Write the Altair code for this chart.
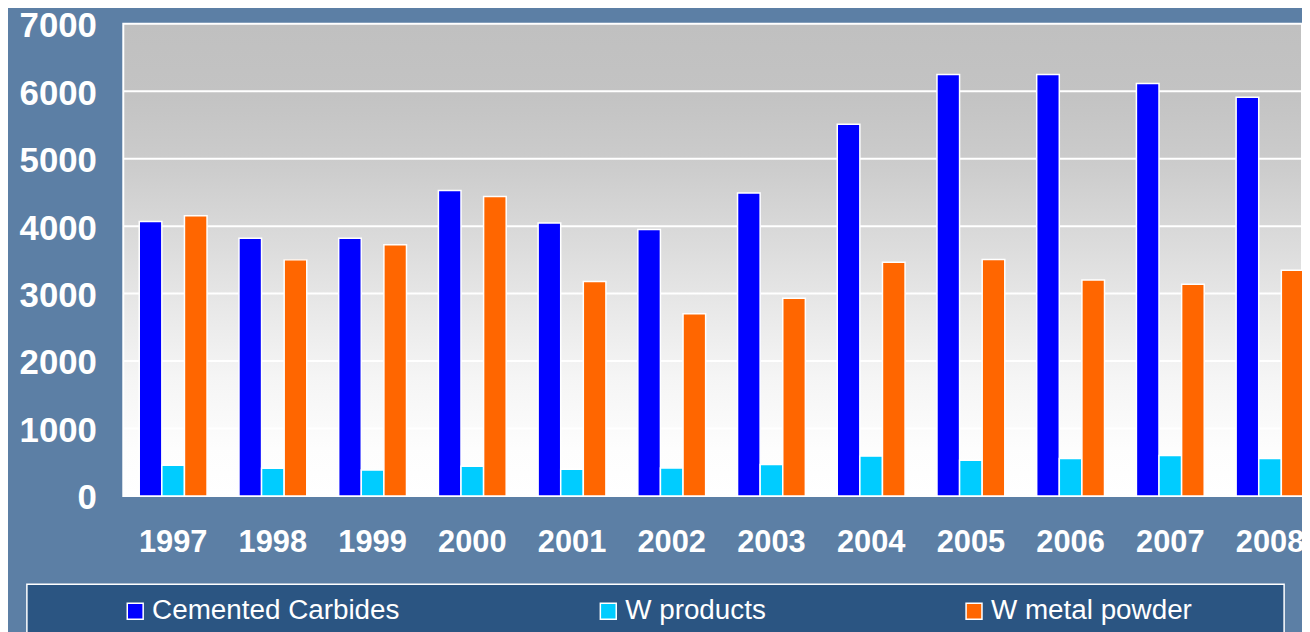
import altair as alt
import pandas as pd

years = ["1997", "1998", "1999", "2000", "2001", "2002", "2003", "2004", "2005", "2006", "2007", "2008"]
series_names = ["Cemented Carbides", "W products", "W metal powder"]
cemented_carbides = [4070, 3820, 3820, 4530, 4045, 3950, 4490, 5510, 6250, 6250, 6115, 5910]
w_products = [455, 410, 385, 440, 395, 415, 465, 590, 530, 555, 600, 555]
w_metal_powder = [4155, 3500, 3725, 4440, 3180, 2700, 2930, 3465, 3505, 3200, 3140, 3345]
series_colors = ["#0000ff", "#00ccff", "#ff6600"]
y_ticks = [0, 1000, 2000, 3000, 4000, 5000, 6000, 7000]

rows = []
for name, vals in zip(series_names, [cemented_carbides, w_products, w_metal_powder]):
    for yr, v in zip(years, vals):
        rows.append({"Year": yr, "Series": name, "Value": v})
df = pd.DataFrame(rows)
grid_df = pd.DataFrame({"Value": y_ticks[1:-1]})

FONT = "Liberation Sans"
W, H = 1186, 475

y_scale = alt.Scale(domain=[0, 7000], nice=False)
y_axis = alt.Axis(title=None, values=y_ticks, format="d", labelColor="white", labelFont=FONT,
                  labelFontSize=35, labelFontWeight="bold", labelPadding=27, labelOffset=2,
                  domain=False, ticks=False, tickSize=0, grid=False)

gradient = alt.LinearGradient(
    gradient="linear", x1=0, y1=0, x2=0, y2=1,
    stops=[alt.GradientStop(offset=0, color="#c0c0c0"), alt.GradientStop(offset=0.15, color="#c3c3c3"),
           alt.GradientStop(offset=0.3, color="#cccccc"), alt.GradientStop(offset=0.45, color="#dadada"),
           alt.GradientStop(offset=0.6, color="#e8e8e8"), alt.GradientStop(offset=0.75, color="#f5f5f5"),
           alt.GradientStop(offset=0.9, color="#fdfdfd"), alt.GradientStop(offset=1, color="#ffffff")],
)

plot_bg = alt.Chart(pd.DataFrame({"k": [0]})).mark_rect(
    fill=gradient, stroke="white", strokeWidth=2
).encode(x=alt.value(0), x2=alt.value("width"), y=alt.value(0), y2=alt.value("height"))

grid = alt.Chart(grid_df).mark_rule(color="white", strokeWidth=2).encode(
    y=alt.Y("Value:Q", scale=y_scale, axis=y_axis)
)

bars = alt.Chart(df).mark_bar(stroke="white", strokeWidth=1.5).encode(
    x=alt.X("Year:N", sort=years,
            scale=alt.Scale(range=[0, 1204], paddingInner=0.32, paddingOuter=0.16),
            axis=alt.Axis(title=None, labelAngle=0, labelColor="white", labelFont=FONT,
                          labelFontSize=31, labelFontWeight="bold", labelPadding=32,
                          domain=False, ticks=False, grid=False)),
    xOffset=alt.XOffset("Series:N", sort=series_names, scale=alt.Scale(paddingInner=0, paddingOuter=0)),
    y=alt.Y("Value:Q", scale=y_scale, axis=y_axis),
    color=alt.Color("Series:N", sort=series_names,
                    scale=alt.Scale(domain=series_names, range=series_colors),
                    legend=alt.Legend(title=None, orient="none", legendX=-2, legendY=577,
                                      direction="horizontal", columns=3, columnPadding=195,
                                      symbolType="square", symbolSize=256, symbolStrokeColor="white",
                                      symbolStrokeWidth=1.5, symbolOpacity=1, labelColor="white",
                                      labelFont=FONT, labelFontSize=28, labelOffset=3,
                                      labelLimit=400, padding=0, zindex=2)),
)

legend_box = alt.Chart(pd.DataFrame({"k": [0]})).mark_rect(
    fill="#2b5582", stroke="white", strokeWidth=1.5
).encode(
    x=alt.value(-97), x2=alt.value(1168), y=alt.value(564), y2=alt.value(660)
)

chart = alt.layer(legend_box, plot_bg, grid, bars).properties(
    width=W, height=H,
    autosize=alt.AutoSizeParams(type="none"),
    padding={"left": 116, "top": 14, "right": 0, "bottom": 135},
).configure(
    background="#5c7fa5",
).configure_view(
    strokeWidth=0,
)

chart.save("out.html", embed_options={"renderer": "svg", "actions": False})
